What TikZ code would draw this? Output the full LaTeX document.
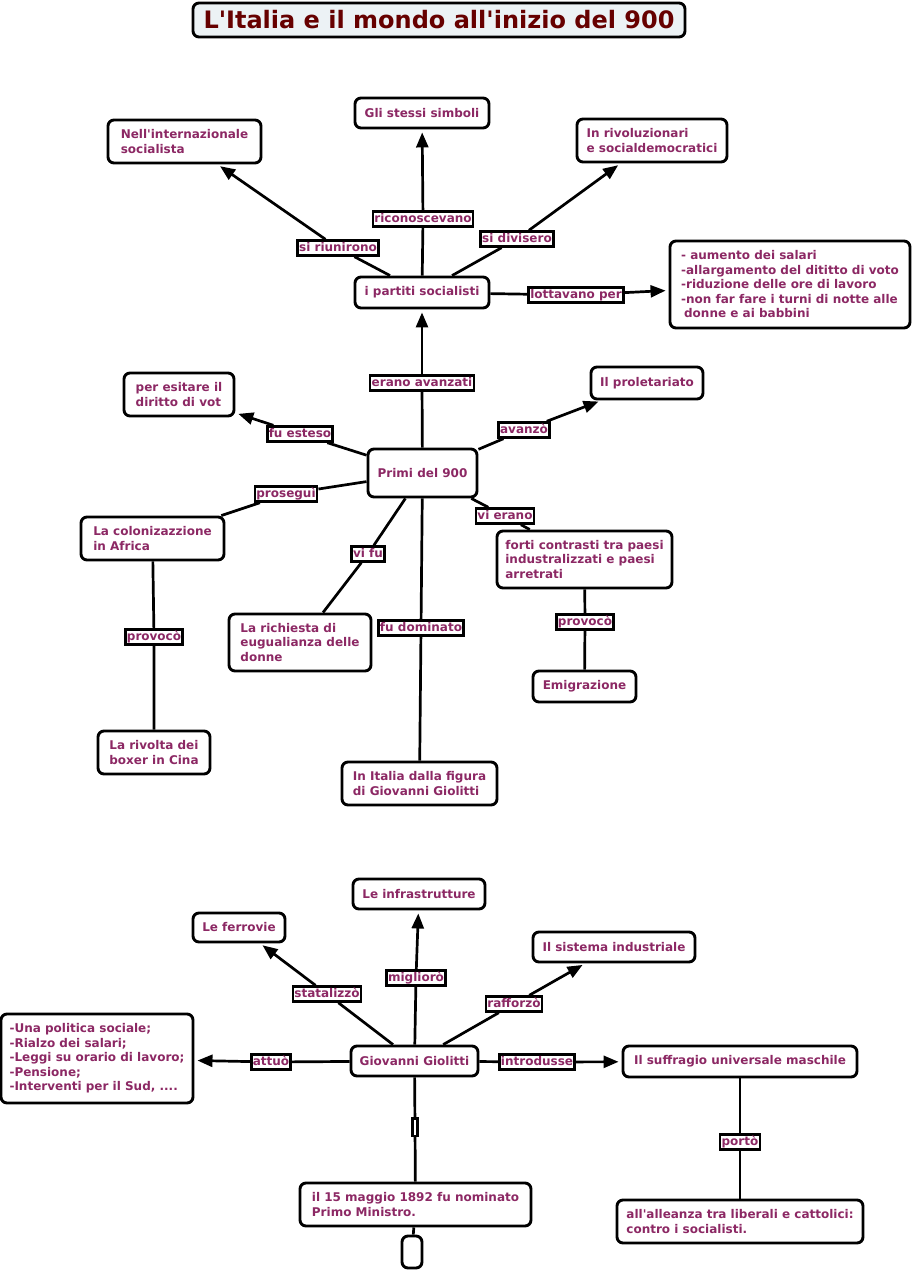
\documentclass[tikz,border=0pt]{standalone}
\usepackage{fontspec}
\setmainfont{DejaVu Sans}[Ligatures=TeXOff]
\usetikzlibrary{arrows.meta, positioning}
\definecolor{cmpurple}{RGB}{140,40,100}
\definecolor{cmmaroon}{RGB}{102,0,0}
\definecolor{cmtitlebg}{RGB}{236,242,245}
\newcommand{\cmfont}{\fontsize{12}{14.5}\selectfont\bfseries}
\tikzset{
  %% ---- boxes ----
  concept/.style 2 args = {rectangle, rounded corners=6pt,
                   draw=black, line width=2.9pt,
                   fill=white, text=cmpurple, align=left,
                   inner xsep=7pt, inner ysep=8pt,
                   minimum width=#1, minimum height=#2, font=\cmfont},
  linkword/.style = {rectangle, draw=black, line width=2.6pt,
                   fill=white, text=cmpurple, inner xsep=1.5pt, inner ysep=1.3pt,
                   text height=9.6pt, text depth=2.6pt, font=\cmfont},
  titlebox/.style = {rectangle, rounded corners=6pt,
                   draw=black, line width=2.9pt,
                   fill=cmtitlebg, text=cmmaroon,
                   minimum width=492, minimum height=34, inner xsep=4pt,
                   font=\fontsize{24}{26}\selectfont\bfseries},
  %% ---- arrows ----
  conn/.style = {line width=2.7pt},
  arr/.style  = {-{Triangle[length=15pt, width=12pt]}, line width=2.7pt,
                 shorten >=3pt},
}

\begin{document}
\begin{tikzpicture}[x=1pt, y=-1pt]
\useasboundingbox (0,0) rectangle (912,1272);

% Title
\node[titlebox] (title) at (439,20) {L'Italia e il mondo all'inizio del 900};

% i partiti socialisti and what they did
\node[concept={153}{43}] (intsoc)  at (184.5,141.5) {Nell'internazionale\\socialista};
\node[concept={134}{30}] (simboli) at (422,113)     {Gli stessi simboli};
\node[concept={150}{43}] (rivol)   at (652,140.5)   {In rivoluzionari\\e socialdemocratici};
\node[concept={134}{31}] (partiti) at (422,292.5)   {i partiti socialisti};
\node[concept={240}{87}] (lotta)   at (790,284.5)
  {- aumento dei salari\\-allargamento del dititto di voto\\-riduzione delle ore di lavoro\\-non far fare i turni di notte alle\\\hspace*{3pt}donne e ai babbini};

\node[linkword] (lriun)  at (338,248) {si riunirono};
\node[linkword] (lricon) at (423,219) {riconoscevano};
\node[linkword] (ldiv)   at (517,239) {si divisero};
\node[linkword] (llotta) at (576,295) {lottavano per};

% Primi del 900 with its branches
\node[concept={109}{48}] (primi)     at (422.5,473)   {Primi del 900};
\node[concept={110}{43}] (voto)      at (179,394.5)   {per esitare il\\diritto di vot};
\node[concept={112}{32}] (prolet)    at (647,383)     {Il proletariato};
\node[concept={143}{43}] (colon)     at (152.5,538.5) {La colonizazzione\\in Africa};
\node[concept={175}{57}] (contrasti) at (584.5,559.5) {forti contrasti tra paesi\\industralizzati e paesi\\arretrati};
\node[concept={142}{57}] (richiesta) at (300,642.5)   {La richiesta di\\eugualianza delle\\donne};
\node[concept={103}{31}] (emig)      at (584.5,686.5) {Emigrazione};
\node[concept={112}{43}] (boxer)     at (154,752.5)   {La rivolta dei\\boxer in Cina};
\node[concept={155}{43}] (giolfig)   at (419.5,783.5) {In Italia dalla figura\\di Giovanni Giolitti};

\node[linkword] (lavanz)   at (422,383) {erano avanzati};
\node[linkword] (lesteso)  at (300,434) {fu esteso};
\node[linkword] (lavanzo)  at (524,430) {avanzò};
\node[linkword] (lprosegui) at (286,494) {proseguì};
\node[linkword] (lerano)   at (505,516) {vi erano};
\node[linkword] (lvifu)    at (368,554) {vi fu};
\node[linkword] (ldomin)   at (421,628) {fu dominato};
\node[linkword] (lprovA)   at (154,637) {provocò};
\node[linkword] (lprovB)   at (585,622) {provocò};

% Giovanni Giolitti
\node[concept={132}{30}] (infra)     at (419,894)     {Le infrastrutture};
\node[concept={92}{29}]  (ferrovie)  at (239,927.5)   {Le ferrovie};
\node[concept={162}{30}] (sistema)   at (614,947)     {Il sistema industriale};
\node[concept={192}{89}] (politica)  at (97,1058.5)
  {-Una politica sociale;\\-Rialzo dei salari;\\-Leggi su orario di lavoro;\\-Pensione;\\-Interventi per il Sud, ....};
\node[concept={127}{30}] (giolitti)  at (414.5,1061)  {Giovanni Giolitti};
\node[concept={234}{31}] (suffragio) at (740,1061.5)  {Il suffragio universale maschile};
\node[concept={231}{43}] (nominato)  at (415.5,1204.5) {il 15 maggio 1892 fu nominato\\Primo Ministro.};
\node[concept={246}{43}] (alleanza)  at (740,1221.5)  {all'alleanza tra liberali e cattolici:\\contro i socialisti.};
\node[concept={20}{32}, inner xsep=4pt] (vuoto) at (412,1252) {};

\node[linkword] (lstat)  at (327,994)  {statalizzò};
\node[linkword] (lmigl)  at (416,978)  {migliorò};
\node[linkword] (lraff)  at (514,1004) {rafforzò};
\node[linkword] (lattuo) at (271,1062) {attuò};
\node[linkword] (lintro) at (537,1062) {introdusse};
\node[linkword, inner xsep=2.6pt, text height=15pt, text depth=0pt] (lnil) at (415,1127) {};
\node[linkword] (lporto) at (740,1142) {portò};

% Connectors, top map
\draw[conn] (partiti) -- (lriun);  \draw[arr] (lriun)  -- (intsoc);
\draw[conn] (partiti) -- (lricon); \draw[arr] (lricon) -- (simboli);
\draw[conn] (partiti) -- (ldiv);   \draw[arr] (ldiv)   -- (rivol);
\draw[conn] (partiti) -- (llotta); \draw[arr] (llotta) -- (lotta);
\draw[conn] (primi) -- (lavanz);   \draw[arr] (lavanz)  -- (partiti);
\draw[conn] (primi) -- (lesteso);  \draw[arr] (lesteso) -- (voto);
\draw[conn] (primi) -- (lavanzo);  \draw[arr] (lavanzo) -- (prolet);
\draw[conn] (primi) -- (lprosegui) -- (colon);
\draw[conn] (primi) -- (lerano) -- (contrasti);
\draw[conn] (primi) -- (lvifu) -- (richiesta);
\draw[conn] (primi) -- (ldomin) -- (giolfig);
\draw[conn] (colon) -- (lprovA) -- (boxer);
\draw[conn] (contrasti) -- (lprovB) -- (emig);

% Connectors, bottom map
\draw[conn] (giolitti) -- (lstat);  \draw[arr] (lstat)  -- (ferrovie);
\draw[conn] (giolitti) -- (lmigl);  \draw[arr] (lmigl)  -- (infra);
\draw[conn] (giolitti) -- (lraff);  \draw[arr] (lraff)  -- (sistema);
\draw[conn] (giolitti) -- (lattuo); \draw[arr] (lattuo) -- (politica);
\draw[conn] (giolitti) -- (lintro); \draw[arr] (lintro) -- (suffragio);
\draw[conn] (giolitti) -- (lnil) -- (nominato);
\draw[conn] (suffragio) -- (lporto) -- (alleanza);
\draw[conn] (nominato) -- (vuoto);

\end{tikzpicture}
\end{document}
